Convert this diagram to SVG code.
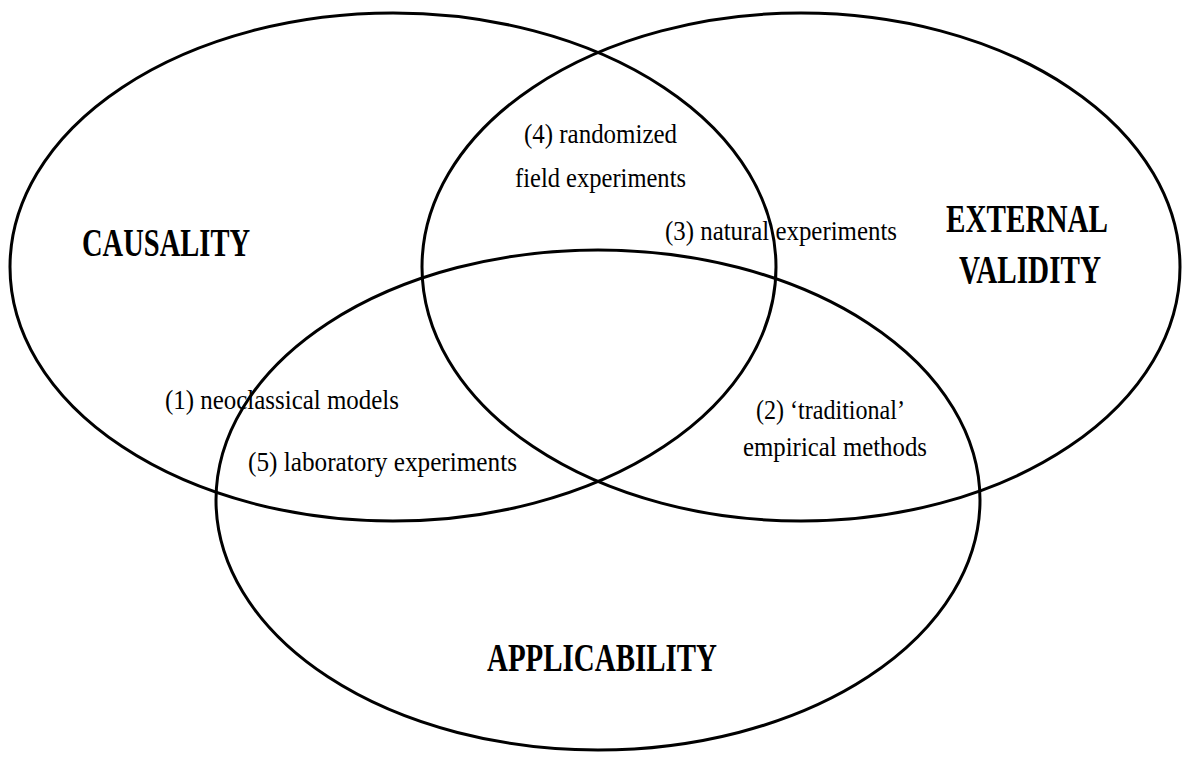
<svg xmlns="http://www.w3.org/2000/svg" width="1186" height="758" viewBox="0 0 1186 758">
  <style>
    .set { fill: none; stroke: #000; stroke-width: 3; }
    .title { font-family: "Liberation Serif", "Times New Roman", serif; font-weight: bold; font-size: 41px; fill: #000; }
    .item { font-family: "Liberation Serif", "Times New Roman", serif; font-size: 27px; fill: #000; }
  </style>
  <rect width="1186" height="758" fill="#fff"/>

  <!-- three overlapping sets -->
  <g id="causality">
    <ellipse class="set" cx="393" cy="267" rx="383" ry="254"/>
    <text class="title" x="82" y="256" textLength="168" lengthAdjust="spacingAndGlyphs">CAUSALITY</text>
  </g>
  <g id="external-validity">
    <ellipse class="set" cx="801" cy="267" rx="379" ry="254"/>
    <text class="title" x="946" y="232" textLength="162" lengthAdjust="spacingAndGlyphs">EXTERNAL</text>
    <text class="title" x="959" y="283" textLength="142" lengthAdjust="spacingAndGlyphs">VALIDITY</text>
  </g>
  <g id="applicability">
    <ellipse class="set" cx="598" cy="500" rx="382" ry="250"/>
    <text class="title" x="487" y="671" textLength="230" lengthAdjust="spacingAndGlyphs">APPLICABILITY</text>
  </g>

  <!-- method labels in the overlaps -->
  <g id="connectors"></g>
  <g id="methods">
    <text class="item" x="524" y="143" textLength="153" lengthAdjust="spacingAndGlyphs">(4) randomized</text>
    <text class="item" x="515" y="187" textLength="171" lengthAdjust="spacingAndGlyphs">field experiments</text>
    <text class="item" x="665" y="240" textLength="232" lengthAdjust="spacingAndGlyphs">(3) natural experiments</text>
    <text class="item" x="165" y="409" textLength="234" lengthAdjust="spacingAndGlyphs">(1) neoclassical models</text>
    <text class="item" x="248" y="471" textLength="269" lengthAdjust="spacingAndGlyphs">(5) laboratory experiments</text>
    <text class="item" x="756" y="419" textLength="149" lengthAdjust="spacingAndGlyphs">(2) ‘traditional’</text>
    <text class="item" x="743" y="456" textLength="184" lengthAdjust="spacingAndGlyphs">empirical methods</text>
  </g>
</svg>
